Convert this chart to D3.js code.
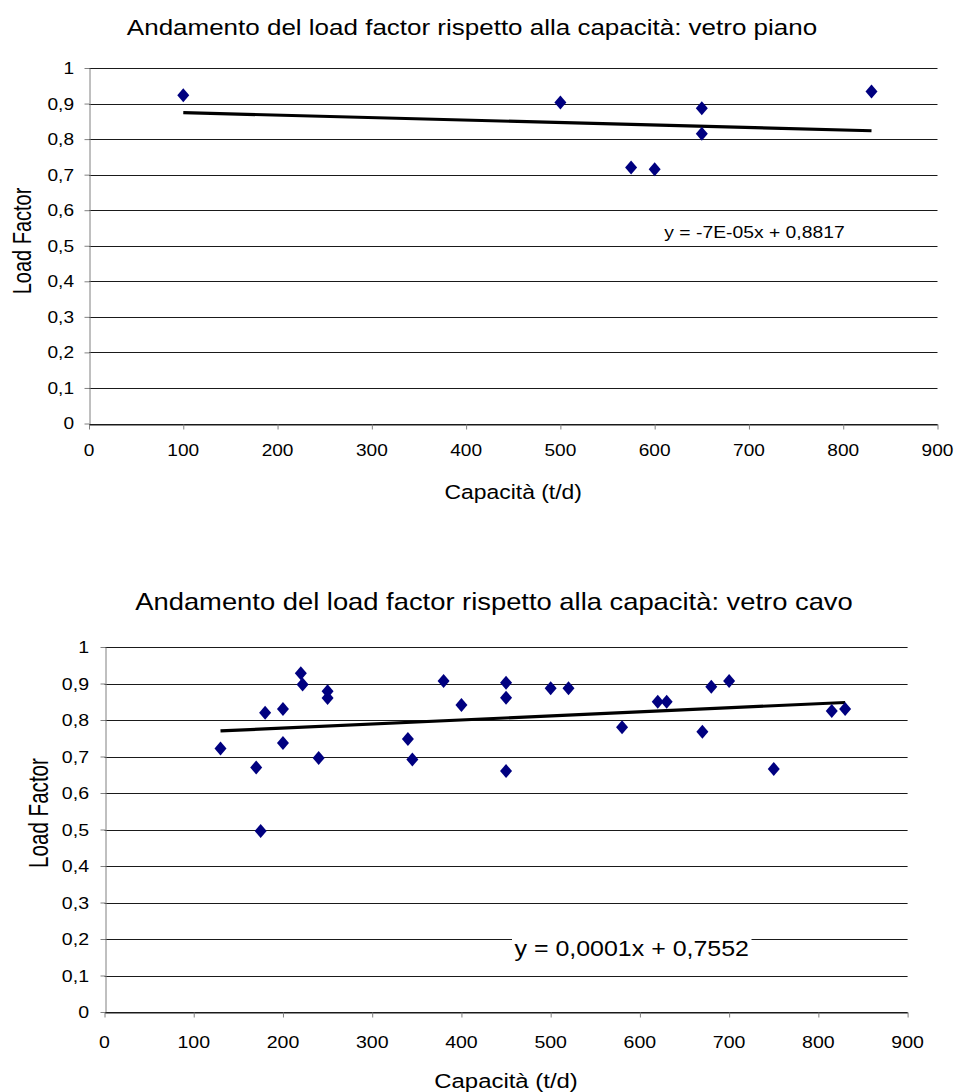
<!DOCTYPE html>
<html>
<head>
<meta charset="utf-8">
<script src="https://cdn.jsdelivr.net/npm/d3@7"></script>
<style>
  body { margin: 0; background: #fff; }
  svg { display: block; }
</style>
</head>
<body>
<div id="chart"></div>
<script>
// tick values and labels (comma decimal, as in the original)
const xTicks = [0, 100, 200, 300, 400, 500, 600, 700, 800, 900];
const yTicks = [0, 0.1, 0.2, 0.3, 0.4, 0.5, 0.6, 0.7, 0.8, 0.9, 1];
const yTickLabels = ["0", "0,1", "0,2", "0,3", "0,4", "0,5", "0,6", "0,7", "0,8", "0,9", "1"];

// vetro piano
const pianoCap = [100, 500, 575, 600, 650, 650, 830];
const pianoLF = [0.923, 0.903, 0.720, 0.715, 0.887, 0.815, 0.934];

// vetro cavo
const cavoCap = [130, 170, 175, 180, 200, 200, 220, 222, 240, 250, 250, 340, 345, 380, 400,
  450, 450, 450, 500, 520, 580, 620, 630, 670, 680, 700, 750, 815, 830];
const cavoLF = [0.722, 0.670, 0.496, 0.820, 0.830, 0.737, 0.928, 0.897, 0.696, 0.879, 0.860, 0.748, 0.692, 0.907, 0.841,
  0.902, 0.861, 0.660, 0.887, 0.887, 0.780, 0.850, 0.850, 0.768, 0.891, 0.907, 0.666, 0.825, 0.830];

const titles = [
  "Andamento del load factor rispetto alla capacità: vetro piano",
  "Andamento del load factor rispetto alla capacità: vetro cavo"
];
const equations = ["y = -7E-05x + 0,8817", "y = 0,0001x + 0,7552"];
const xLabel = "Capacità (t/d)";
const yLabel = "Load Factor";

const W = 958, H = 1092;
const SX = 1.15;  // the original picture is a bit stretched horizontally
const SXR = 1.3;  // same stretch seen on the rotated label
const FONT = "'Liberation Sans', Arial, Helvetica, sans-serif";

const svg = d3.select("#chart").append("svg")
  .attr("width", W)
  .attr("height", H);

svg.append("rect").attr("width", W).attr("height", H).attr("fill", "#fff");

function stext(parent, str, x, y, size, anchor, rotated) {
  parent.append("text")
    .text(str)
    .attr("font-family", FONT)
    .attr("font-size", size)
    .attr("text-anchor", anchor)
    .attr("fill", "#000")
    .attr("transform", rotated
      ? `translate(${x},${y}) rotate(-90) scale(1,${SXR})`
      : `translate(${x},${y}) scale(${SX},1)`);
}

// least squares fit for the trendline
function fit(xs, ys) {
  const mx = d3.mean(xs), my = d3.mean(ys);
  let sxy = 0, sxx = 0;
  xs.forEach((x, i) => { sxy += (x - mx) * (ys[i] - my); sxx += (x - mx) * (x - mx); });
  const b = sxy / sxx;
  return { b: b, a: my - b * mx };
}

function drawChart(cfg) {
  const g = svg.append("g");
  const x = d3.scaleLinear().domain([0, 900]).range([cfg.left, cfg.right]);
  const y = d3.scaleLinear().domain([0, 1]).range([cfg.bottom, cfg.top]);

  // gridlines
  g.selectAll("line.grid")
    .data(yTicks)
    .enter()
    .append("line")
    .attr("x1", cfg.left)
    .attr("x2", cfg.right)
    .attr("y1", d => Math.round(y(d)) + 0.5)
    .attr("y2", d => Math.round(y(d)) + 0.5)
    .attr("stroke", "#1a1a1a")
    .attr("stroke-width", 1);

  // axes (labels drawn separately so they can be stretched)
  const ya = g.append("g")
    .attr("transform", `translate(${Math.round(cfg.left) + 0.5},0)`)
    .call(d3.axisLeft(y).tickValues(yTicks).tickSize(5).tickSizeOuter(0).tickFormat(""));
  ya.select(".domain").attr("stroke", "#808080");
  ya.selectAll(".tick line").attr("stroke", "#808080");

  const xa = g.append("g")
    .attr("transform", `translate(0,${Math.round(cfg.bottom) + 0.5})`)
    .call(d3.axisBottom(x).tickValues(xTicks).tickSize(5).tickSizeOuter(0).tickFormat(""));
  xa.select(".domain").attr("stroke", "#1a1a1a");
  xa.selectAll(".tick line").attr("stroke", "#808080");

  yTicks.forEach((t, i) => {
    stext(g, yTickLabels[i], cfg.left - cfg.yLabGap, y(t) + cfg.tickSize * 0.36, cfg.tickSize, "end");
  });
  xTicks.forEach(t => {
    stext(g, String(t), x(t), cfg.xTickBase, cfg.tickSize, "middle");
  });

  // equation label with white box
  g.append("rect")
    .attr("x", cfg.eq.x0)
    .attr("y", cfg.eq.base - cfg.eq.size * 1.05)
    .attr("width", cfg.eq.x1 - cfg.eq.x0)
    .attr("height", cfg.eq.size * 1.45)
    .attr("fill", "#fff");
  stext(g, cfg.equation, (cfg.eq.x0 + cfg.eq.x1) / 2, cfg.eq.base, cfg.eq.size, "middle");

  // trendline
  const f = fit(cfg.cap, cfg.lf);
  const ext = d3.extent(cfg.cap);
  g.append("path")
    .datum(ext)
    .attr("fill", "none")
    .attr("stroke", "#000")
    .attr("stroke-width", 3.2)
    .attr("d", d3.line().x(d => x(d)).y(d => y(f.a + f.b * d)));

  // diamond markers
  const diamond = "M0,-7L6,0L0,7L-6,0Z";
  g.selectAll("path.pt")
    .data(cfg.cap.map((c, i) => ({ c: c, v: cfg.lf[i] })))
    .enter()
    .append("path")
    .attr("class", "pt")
    .attr("d", diamond)
    .attr("transform", d => `translate(${x(d.c)},${y(d.v)})`)
    .attr("fill", "#000080");

  // titles
  stext(g, cfg.title, cfg.titleX, cfg.titleBase, cfg.titleSize, "middle");
  stext(g, xLabel, (cfg.left + cfg.right) / 2, cfg.xLabBase, cfg.labSize, "middle");
  stext(g, yLabel, cfg.yLabX, cfg.yLabY, cfg.yLabSize, "middle", true);
}

drawChart({
  cap: pianoCap, lf: pianoLF, title: titles[0], equation: equations[0],
  left: 89, right: 937.5, top: 68, bottom: 423.5,
  tickSize: 16.6, yLabGap: 15, xTickBase: 456,
  titleX: 472, titleBase: 35, titleSize: 22.6,
  xLabBase: 499, labSize: 19.9,
  yLabX: 31, yLabY: 241, yLabSize: 20,
  eq: { x0: 659, x1: 850, base: 238, size: 16.8 }
});

drawChart({
  cap: cavoCap, lf: cavoLF, title: titles[1], equation: equations[1],
  left: 104.5, right: 907.6, top: 647, bottom: 1012,
  tickSize: 17, yLabGap: 15.5, xTickBase: 1048,
  titleX: 494, titleBase: 610, titleSize: 23.8,
  xLabBase: 1088, labSize: 20.8,
  yLabX: 48, yLabY: 813, yLabSize: 20.6,
  eq: { x0: 512, x1: 751.5, base: 956, size: 21.7 }
});
</script>
</body>
</html>
